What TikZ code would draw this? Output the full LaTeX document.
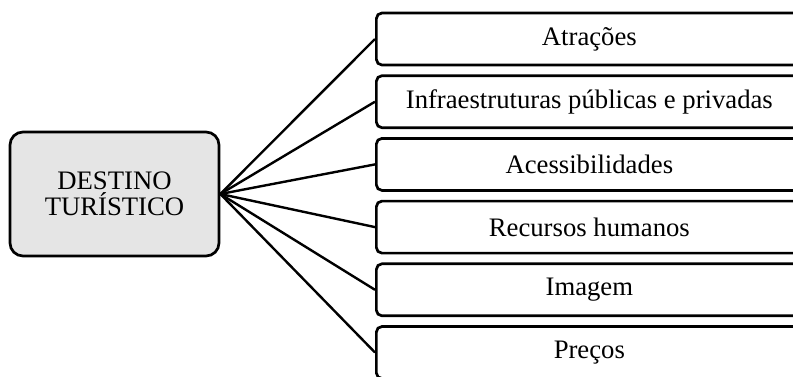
\documentclass[tikz,border=0pt]{standalone}
\usepackage{fontspec}
\setmainfont{Liberation Serif}
\begin{document}
\begin{tikzpicture}[x=0.5pt,y=-0.5pt,
  every node/.style={font=\fontsize{13.35pt}{13pt}\selectfont},
  hub/.style={draw=black, line width=1.35pt, fill=black!10, rounded corners=6.5pt,
    minimum width=104.5pt, minimum height=62pt, inner sep=0pt, align=center},
  item/.style={draw=black, line width=1.35pt, fill=white, rounded corners=2.8pt,
    minimum width=213pt, minimum height=26pt, inner sep=0pt, anchor=west},
  link/.style={line width=1.2pt}]
  \useasboundingbox (0,0) rectangle (793,376);
  \clip (0,0) rectangle (793,376);
  \fill[white] (0,0) rectangle (793,376);

  \node[hub] (dest) at (114.5,194) {DESTINO\\TURÍSTICO};

  \node[item] (a1) at (375,39)    {Atrações};
  \node[item] (a2) at (375,101.7) {Infraestruturas públicas e privadas};
  \node[item] (a3) at (375,164.4) {Acessibilidades};
  \node[item] (a4) at (375,227.1) {Recursos humanos};
  \node[item] (a5) at (375,289.8) {Imagem};
  \node[item] (a6) at (375,352.5) {Preços};

  \foreach \n in {a1,a2,a3,a4,a5,a6}
    \draw[link] (dest.east) -- (\n.west);
\end{tikzpicture}
\end{document}
